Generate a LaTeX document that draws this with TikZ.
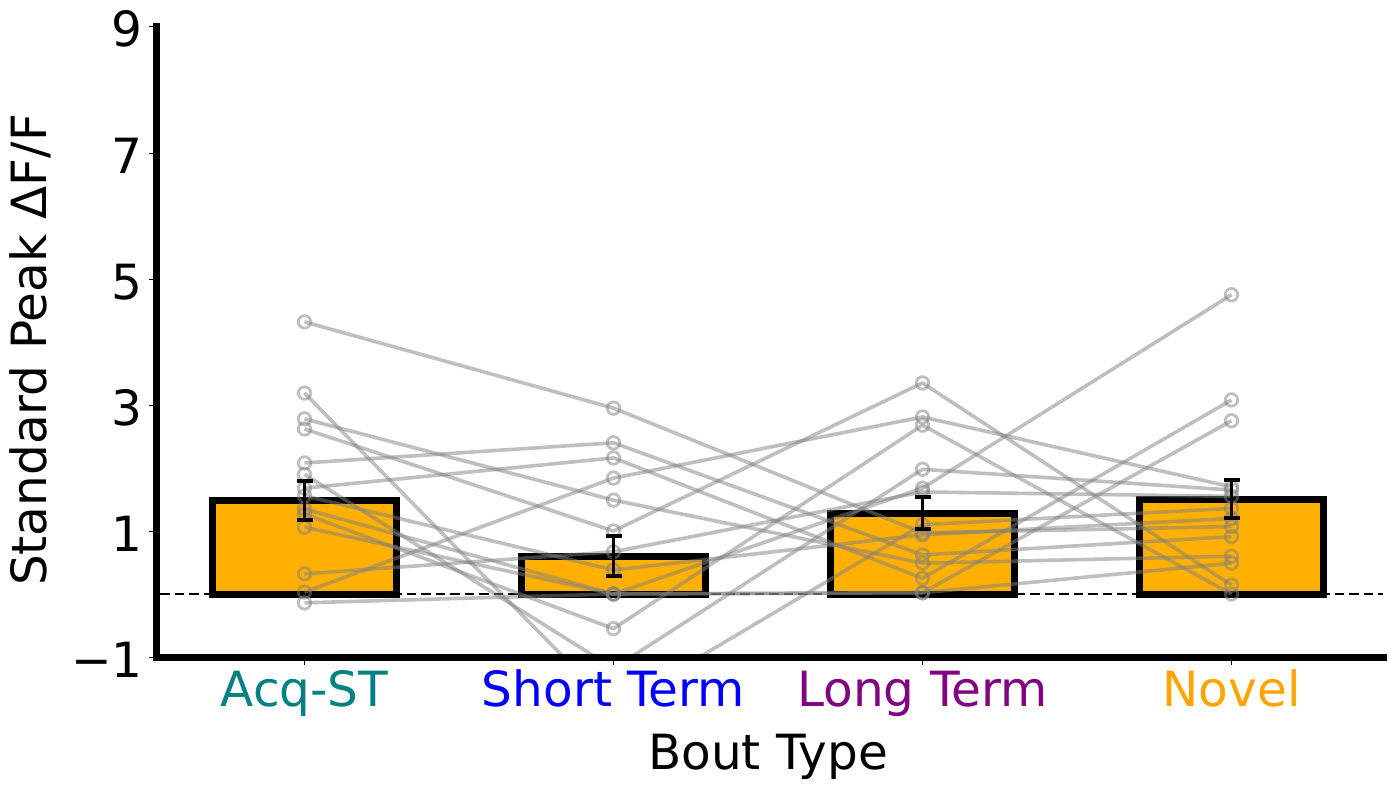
\documentclass[tikz,border=0pt]{standalone}
\usepackage{fontspec}
\setmainfont{DejaVu Sans}
\definecolor{barfill}{RGB}{255,176,0}
\definecolor{tealc}{RGB}{0,128,128}
\definecolor{bluec}{RGB}{0,0,255}
\definecolor{purplec}{RGB}{128,0,128}
\definecolor{orangec}{RGB}{255,165,0}
\begin{document}
\begin{tikzpicture}[x=1pt,y=-1pt,
  lbl/.style={inner sep=0pt, font=\fontsize{48.5}{48.5}\selectfont},
  barbox/.style={draw=black, fill=barfill, line width=7pt},
  gl/.style={draw=gray, line width=3.6pt, opacity=0.5, line join=round},
  ptmark/.style={circle, draw=gray, line width=2.8pt, draw opacity=0.5, minimum size=12.5pt, inner sep=0pt},
  ebar/.style={line width=3.6pt, draw=black},
  spine/.style={line width=7pt, line cap=rect},
  tickmark/.style={line width=1pt}]
\useasboundingbox (0,0) rectangle (1389,789);
\fill[white] (0,0) rectangle (1389,789);
\begin{scope}[shift={(0,594)}, y=63pt]
  % bars
  \foreach \cx/\h in {304.5/1.48, 613.5/0.60, 922.5/1.28, 1231.5/1.50}
    \draw[barbox] (\cx-92,0) rectangle (\cx+92,\h);
  % zero line
  \draw[line width=2.3pt, dash pattern=on 9.5pt off 5pt] (160,0) -- (1383,0);
  % subjects
  \begin{scope}
    \clip (157,-1) rectangle (1383,9);
    \foreach \i/\a/\s/\l/\n in {
      1/4.32/2.95/0.97/1.07,
      2/3.19/-1.81/1.10/1.36,
      3/2.78/1.49/0.49/0.60,
      4/2.62/1.00/3.35/0.14,
      5/2.08/2.40/0.62/0.91,
      6/1.90/-1.18/1.98/1.65,
      7/1.68/2.16/0.25/3.08,
      8/1.56/0.38/0.94/1.20,
      9/1.35/0.00/0.02/2.75,
      10/1.27/-0.55/2.68/0.00,
      11/1.06/0.00/1.68/4.75,
      12/0.32/0.67/1.62/1.55,
      13/0.03/1.84/2.81/1.70,
      14/-0.14/0.00/0.02/0.49} {
      \coordinate (a\i) at (304.5,\a);
      \coordinate (s\i) at (613.5,\s);
      \coordinate (l\i) at (922.5,\l);
      \coordinate (n\i) at (1231.5,\n);
      \draw[gl] (a\i) -- (s\i) -- (l\i) -- (n\i);
      \node[ptmark] (ma\i) at (a\i) {};
      \node[ptmark] (ms\i) at (s\i) {};
      \node[ptmark] (ml\i) at (l\i) {};
      \node[ptmark] (mn\i) at (n\i) {};
    }
  \end{scope}
  % error bars
  \foreach \cx/\lo/\hi in {304.5/1.17/1.79, 613.5/0.29/0.92, 922.5/1.03/1.54, 1231.5/1.21/1.81} {
    \draw[ebar] (\cx,\lo) -- (\cx,\hi);
    \draw[ebar] (\cx-8,\lo) -- (\cx+8,\lo);
    \draw[ebar] (\cx-8,\hi) -- (\cx+8,\hi);
  }
\end{scope}
% spines
\draw[spine] (156.5,27) -- (156.5,657.5) -- (1383,657.5);
% y ticks and labels
\foreach \py/\t in {657/−1, 531/1, 405/3, 279/5, 153/7, 27/9} {
  \draw[tickmark] (149,\py) -- (153,\py);
  \node[lbl, anchor=base east] (yt\py) at (143,\py+20) {\t};
}
% x ticks
\foreach \cx in {304.5, 613.5, 922.5, 1231.5}
  \draw[tickmark] (\cx,661) -- (\cx,665);
\node[lbl, anchor=base, text=tealc] (xa) at (304.5,706) {Acq-ST};
\node[lbl, anchor=base, text=bluec] (xs) at (613.5,706) {Short Term};
\node[lbl, anchor=base, text=purplec] (xl) at (922.5,706) {Long Term};
\node[lbl, anchor=base, text=orangec] (xn) at (1231.5,706) {Novel};
\node[lbl, anchor=base] (xlab) at (768,769) {Bout Type};
\node[lbl, anchor=base, rotate=90] (ylab) at (46.5,350) {Standard Peak ΔF/F};
\end{tikzpicture}
\end{document}
